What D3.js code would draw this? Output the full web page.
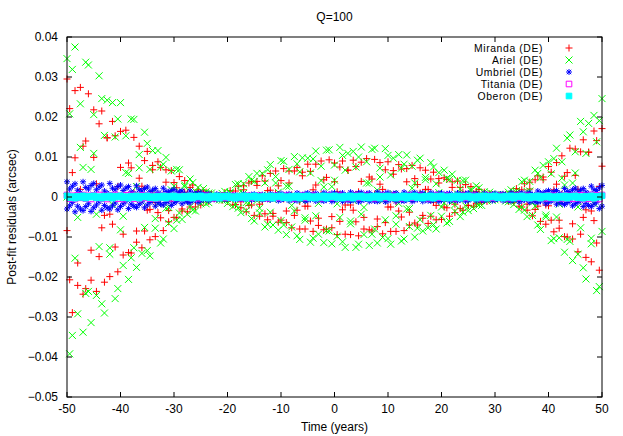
<!DOCTYPE html>
<html>
<head>
<meta charset="utf-8">
<script src="https://cdn.jsdelivr.net/npm/d3@7"></script>
<style>
  body { margin: 0; background: #fff; }
  text { font-family: "Liberation Sans", Arial, sans-serif; font-size: 12px; fill: #000; }
</style>
</head>
<body>
<div id="chart"></div>
<script>
// sample times (years), shared by all five moons
var times = [
  -50, -49.5, -49, -48.5, -48, -47.5, -47, -46.5, -46, -45.5,
  -45, -44.5, -44, -43.5, -43, -42.5, -42, -41.5, -41, -40.5,
  -40, -39.5, -39, -38.5, -38, -37.5, -37, -36.5, -36, -35.5,
  -35, -34.5, -34, -33.5, -33, -32.5, -32, -31.5, -31, -30.5,
  -30, -29.5, -29, -28.5, -28, -27.5, -27, -26.5, -26, -25.5,
  -25, -24.5, -24, -23.5, -23, -22.5, -22, -21.5, -21, -20.5,
  -20, -19.5, -19, -18.5, -18, -17.5, -17, -16.5, -16, -15.5,
  -15, -14.5, -14, -13.5, -13, -12.5, -12, -11.5, -11, -10.5,
  -10, -9.5, -9, -8.5, -8, -7.5, -7, -6.5, -6, -5.5,
  -5, -4.5, -4, -3.5, -3, -2.5, -2, -1.5, -1, -0.5,
  0, 0.5, 1, 1.5, 2, 2.5, 3, 3.5, 4, 4.5,
  5, 5.5, 6, 6.5, 7, 7.5, 8, 8.5, 9, 9.5,
  10, 10.5, 11, 11.5, 12, 12.5, 13, 13.5, 14, 14.5,
  15, 15.5, 16, 16.5, 17, 17.5, 18, 18.5, 19, 19.5,
  20, 20.5, 21, 21.5, 22, 22.5, 23, 23.5, 24, 24.5,
  25, 25.5, 26, 26.5, 27, 27.5, 28, 28.5, 29, 29.5,
  30, 30.5, 31, 31.5, 32, 32.5, 33, 33.5, 34, 34.5,
  35, 35.5, 36, 36.5, 37, 37.5, 38, 38.5, 39, 39.5,
  40, 40.5, 41, 41.5, 42, 42.5, 43, 43.5, 44, 44.5,
  45, 45.5, 46, 46.5, 47, 47.5, 48, 48.5, 49, 49.5,
  50
];

// residuals in units of 0.001 arcsec, two components per moon
var miranda = [
  -8.4, 22.1, -28.9, 26.6, -16.5, 1.9, 12.7, -22.9, 25.8, -20.8,
  9.9, 3.3, -14.9, 21.5, -21.3, 14.8, -4.3, -6.8, 15.3, -18.7,
  16.4, -9.3, 0, 8.5, -14.0, 14.9, -11.3, 4.7, 2.7, -8.5,
  11.4, -10.7, 6.8, -1.4, -3.9, 7.4, -8.4, 6.8, -3.4, -0.5,
  3.6, -5.2, 5.1, -3.5, 1.2, 1.0, -2.5, 3.0, -2.5, 1.4,
  -0.1, -0.8, 1.2, -1.1, 0.7, -0.2, -0.1, 0.3, -0.8, 1.1,
  -1.0, 0.4, 0.7, -1.9, 2.7, -2.7, 1.8, 0, -2.1, 3.9,
  -4.6, 3.9, -1.8, -1.1, 4.0, -5.7, 5.9, -4.1, 0.9, 2.8,
  -5.8, 7.1, -6.4, 3.5, 0.5, -4.6, 7.4, -8.0, 6.2, -2.3,
  -2.3, 6.4, -8.6, 8.2, -5.3, 0.6, 4.3, -8.0, 9.3, -7.7,
  3.8, 1.3, -6.1, 9.0, -9.3, 6.7, -2.0, -3.3, 7.6, -9.7,
  8.7, -5.1, 0, 5.0, -8.5, 9.4, -7.4, 3.2, 1.9, -6.4,
  8.8, -8.6, 5.7, -1.2, -3.5, 7.0, -8.4, 7.1, -3.8, -0.6,
  4.6, -7.0, 7.3, -5.3, 1.9, 1.9, -4.8, 6.2, -5.7, 3.5,
  -0.4, -2.5, 4.4, -4.8, 3.8, -1.8, -0.6, 2.4, -3.3, 3.1,
  -2.1, 0.6, 0.8, -1.7, 1.9, -1.4, 0.7, 0, -0.5, 0.6,
  -0.5, 0.4, -0.1, -0.1, 0.6, -1.1, 1.3, -1.1, 0.3, 1.0,
  -2.5, 3.3, -3.3, 2.0, 0.3, -3.1, 5.3, -6.1, 5.0, -2.0,
  -2.2, 6.2, -8.7, 8.6, -5.8, 0.7, 5.2, -10.0, 12.2, -10.5,
  5.4, 1.9, -9.3, 14.3, -15.1, 11.2, -3.5, -5.9, 14.1, -18.3,
  17.1
];
var miranda2 = [
  29.5, -20.7, 6.1, 9.8, -22.1, 27.4, -24.3, 14.0, 0, -13.3,
  21.8, -23.6, 18.3, -7.7, -4.6, 14.8, -19.9, 18.9, -12.5, 2.6,
  7.4, -14.5, 16.7, -13.9, 7.3, 1.1, -8.5, 12.7, -12.7, 9.1,
  -3.3, -3.1, 7.9, -9.9, 8.8, -5.2, 0.6, 3.7, -6.2, 6.6,
  -5.1, 2.3, 0.7, -3.0, 4.1, -3.7, 2.4, -0.6, -0.9, 1.8,
  -2.0, 1.5, -0.7, 0, 0.4, -0.4, 0.4, -0.4, 0.3, 0.2,
  -1.0, 1.6, -2.0, 1.5, -0.4, -1.2, 2.8, -3.7, 3.5, -2.0,
  -0.3, 2.9, -4.8, 5.3, -4.2, 1.6, 1.7, -4.8, 6.5, -6.3,
  4.1, -0.5, -3.5, 6.5, -7.7, 6.5, -3.3, -1.1, 5.3, -8.0,
  8.2, -6.0, 1.8, 3.0, -7.1, 9.0, -8.2, 4.9, 0, -4.9,
  8.5, -9.4, 7.5, -3.2, -2.0, 6.7, -9.4, 9.2, -6.2, 1.3,
  3.9, -8.0, 9.6, -8.2, 4.5, 0.7, -5.5, 8.6, -9.2, 6.8,
  -2.5, -2.5, 6.6, -8.6, 8.1, -5.0, 0.6, 3.8, -7.0, 7.9,
  -6.5, 3.1, 1.0, -4.6, 6.7, -6.6, 4.5, -1.3, -2.1, 4.6,
  -5.6, 4.8, -2.7, 0, 2.4, -3.9, 4.0, -2.9, 1.2, 0.7,
  -2.1, 2.6, -2.3, 1.4, -0.3, -0.7, 1.2, -1.1, 0.8, -0.3,
  0.0, 0.3, -0.4, 0.5, -0.6, 0.3, 0.4, -1.3, 2.1, -2.3,
  1.8, -0.2, -1.8, 3.7, -4.7, 4.3, -2.3, -0.9, 4.3, -6.8,
  7.6, -5.8, 1.8, 3.2, -7.8, 10.3, -9.9, 6.1, 0, -6.7,
  12.0, -13.7, 11.3, -5.1, -3.2, 11.2, -16.2, 16.5, -11.5, 2.6,
  7.7
];

var ariel = [
  0, 20.8, -34.6, 37.5, -29.2, 12.4, 7.4, -24.1, 33.0, -31.4,
  20.6, -4.3, -12.4, 24.6, -29.0, 24.2, -12.7, -1.8, 15.0, -22.9,
  23.6, -17.1, 6.1, 5.9, -15.2, 19.4, -17.6, 10.6, -1.2, -7.6,
  13.4, -14.7, 11.6, -5.4, -1.7, 7.5, -10.5, 9.9, -6.6, 1.8,
  2.7, -5.8, 6.8, -5.6, 3.0, 0, -2.4, 3.6, -3.5, 2.4,
  -0.9, -0.5, 1.3, -1.4, 1.0, -0.5, 0.1, 0.3, -0.8, 1.4,
  -1.6, 1.0, 0.2, -1.8, 3.3, -3.9, 3.3, -1.4, -1.5, 4.2,
  -6.0, 5.9, -4.0, 0.5, 3.5, -6.8, 8.1, -7.0, 3.5, 1.2,
  -5.9, 8.9, -9.4, 6.9, -2.1, -3.5, 8.3, -10.6, 9.8, -5.8,
  0, 6.0, -10.3, 11.5, -9.3, 4.1, 2.5, -8.4, 11.8, -11.7,
  8.0, -1.7, -5.1, 10.4, -12.6, 10.9, -6.0, -0.9, 7.5, -11.8,
  12.5, -9.4, 3.5, 3.5, -9.3, 12.2, -11.5, 7.2, -0.9, -5.7,
  10.4, -11.8, 9.7, -4.7, -1.6, 7.2, -10.5, 10.5, -7.4, 2.2,
  3.5, -7.8, 9.7, -8.5, 4.9, 0, -4.6, 7.5, -8.0, 6.1,
  -2.5, -1.5, 4.7, -6.1, 5.7, -3.6, 0.7, 2.0, -3.8, 4.2,
  -3.4, 1.6, 0.2, -1.6, 2.3, -2.1, 1.3, -0.4, -0.3, 0.7,
  -0.7, 0.6, -0.3, 0.0, 0.5, -1.2, 1.8, -1.9, 1.1, 0.5,
  -2.5, 4.2, -4.9, 3.9, -1.3, -2.3, 5.9, -8.1, 7.9, -5.0,
  0, 5.8, -10.4, 12.2, -10.2, 4.7, 3.0, -10.6, 15.5, -15.9,
  11.3, -2.5, -7.7, 16.3, -20.5, 18.4, -10.3, -1.6, 13.8, -22.4,
  24.6
];
var ariel2 = [
  34.6, -39.2, 31.9, -15.3, -5.1, 23.3, -33.8, 33.7, -23.6, 6.9,
  10.9, -24.6, 30.3, -26.7, 15.4, 0, -14.3, 23.6, -25.4, 19.5,
  -8.2, -4.8, 15.3, -20.6, 19.5, -12.7, 2.6, 7.3, -14.1, 16.2,
  -13.4, 6.9, 1.0, -7.8, 11.6, -11.5, 8.2, -2.8, -2.6, 6.5,
  -7.9, 6.9, -4.0, 0.4, 2.6, -4.3, 4.5, -3.3, 1.4, 0.4,
  -1.7, 2.1, -1.7, 1.0, -0.2, -0.2, 0.4, -0.7, 0.9, -0.7,
  0, 1.2, -2.4, 3.1, -2.8, 1.4, 0.9, -3.4, 5.1, -5.4,
  3.9, -0.9, -2.8, 5.9, -7.5, 6.8, -3.8, -0.6, 5.1, -8.3,
  9.1, -7.0, 2.7, 2.7, -7.5, 10.1, -9.7, 6.3, -0.8, -5.2,
  9.7, -11.3, 9.5, -4.7, -1.6, 7.7, -11.4, 11.7, -8.5, 2.6,
  4.2, -9.8, 12.4, -11.2, 6.7, 0, -6.7, 11.4, -12.6, 10.0,
  -4.3, -2.6, 8.8, -12.1, 11.9, -8.0, 1.7, 5.0, -10.1, 12.1,
  -10.4, 5.5, 0.8, -6.8, 10.6, -11.0, 8.2, -3.0, -2.9, 7.7,
  -10.0, 9.2, -5.7, 0.7, 4.3, -7.7, 8.6, -6.9, 3.3, 1.1,
  -4.8, 6.7, -6.5, 4.4, -1.2, -1.9, 4.2, -4.9, 4.1, -2.2,
  0, 1.9, -2.9, 2.8, -2.0, 0.7, 0.4, -1.0, 1.2, -0.9,
  0.5, -0.1, -0.2, 0.6, -1.0, 1.2, -0.8, -0.2, 1.6, -3.1,
  3.8, -3.3, 1.4, 1.5, -4.6, 6.7, -7.0, 4.8, -0.6, -4.5,
  8.8, -10.9, 9.6, -5.0, -1.8, 8.8, -13.8, 14.7, -11.1, 3.5,
  6.0, -14.3, 18.9, -17.7, 10.9, 0, -11.7, 20.4, -23.4, 19.1,
  -8.6
];

var umbriel = [
  3.8, -2.2, 2.7, -3.7, 1.7, -3.0, 3.8, -2.4, 2.0, -3.6,
  3.4, -2.0, 2.5, -3.3, 1.5, -2.7, 3.4, -2.2, 1.8, -3.2,
  3.0, -1.7, 2.2, -2.9, 1.3, -2.3, 2.8, -1.8, 1.5, -2.7,
  2.5, -1.4, 1.7, -2.3, 1.1, -1.8, 2.2, -1.4, 1.2, -2.1,
  1.9, -1.1, 1.3, -1.7, 0.8, -1.3, 1.5, -0.9, 0.7, -1.3,
  1.1, -0.6, 0.7, -0.9, 0.4, -0.6, 0.7, -0.4, 0.4, -0.6,
  0.6, -0.3, 0.4, -0.6, 0.3, -0.5, 0.7, -0.4, 0.4, -0.7,
  0.7, -0.4, 0.5, -0.7, 0.4, -0.6, 0.8, -0.5, 0.5, -0.9,
  0.9, -0.5, 0.6, -0.9, 0.4, -0.8, 1.0, -0.6, 0.5, -1.0,
  1.0, -0.6, 0.7, -1.0, 0.5, -0.8, 1.1, -0.7, 0.6, -1.1,
  1.0, -0.6, 0.8, -1.1, 0.5, -0.9, 1.2, -0.8, 0.6, -1.2,
  1.1, -0.7, 0.8, -1.1, 0.5, -1.0, 1.2, -0.8, 0.6, -1.2,
  1.1, -0.6, 0.8, -1.1, 0.5, -0.9, 1.2, -0.7, 0.6, -1.1,
  1.1, -0.6, 0.8, -1.1, 0.5, -0.9, 1.1, -0.7, 0.6, -1.1,
  1.0, -0.6, 0.8, -1.0, 0.5, -0.8, 1.0, -0.7, 0.6, -1.0,
  1.0, -0.5, 0.7, -0.9, 0.4, -0.8, 0.9, -0.6, 0.5, -0.9,
  0.9, -0.5, 0.7, -0.9, 0.5, -0.8, 1.1, -0.7, 0.6, -1.2,
  1.1, -0.7, 0.9, -1.3, 0.6, -1.2, 1.5, -1.0, 0.9, -1.7,
  1.6, -1.0, 1.3, -1.8, 0.9, -1.6, 2.1, -1.4, 1.2, -2.2,
  2.2, -1.3, 1.7, -2.4, 1.2, -2.1, 2.7, -1.8, 1.6, -2.9,
  2.9
];
var umbriel2 = [
  -3.0, 2.0, -1.4, 3.3, -2.3, 1.1, -3.4, 2.4, -1.7, 2.9,
  -2.7, 1.8, -1.2, 3.0, -2.1, 1.0, -3.0, 2.2, -1.5, 2.6,
  -2.4, 1.6, -1.1, 2.6, -1.8, 0.9, -2.6, 1.8, -1.2, 2.1,
  -2.0, 1.3, -0.9, 2.1, -1.4, 0.7, -2.0, 1.4, -1.0, 1.6,
  -1.5, 1.0, -0.6, 1.5, -1.0, 0.5, -1.4, 0.9, -0.6, 1.0,
  -0.9, 0.6, -0.4, 0.8, -0.5, 0.2, -0.6, 0.4, -0.3, 0.5,
  -0.5, 0.3, -0.2, 0.5, -0.4, 0.2, -0.6, 0.4, -0.3, 0.6,
  -0.5, 0.4, -0.3, 0.6, -0.5, 0.2, -0.7, 0.5, -0.4, 0.7,
  -0.7, 0.5, -0.3, 0.8, -0.6, 0.3, -0.9, 0.6, -0.4, 0.8,
  -0.8, 0.5, -0.4, 0.9, -0.6, 0.3, -1.0, 0.7, -0.5, 0.9,
  -0.8, 0.6, -0.4, 1.0, -0.7, 0.3, -1.0, 0.8, -0.5, 1.0,
  -0.9, 0.6, -0.4, 1.0, -0.7, 0.4, -1.1, 0.8, -0.5, 0.9,
  -0.9, 0.6, -0.4, 1.0, -0.7, 0.3, -1.0, 0.7, -0.5, 0.9,
  -0.8, 0.6, -0.4, 1.0, -0.7, 0.3, -1.0, 0.7, -0.5, 0.9,
  -0.8, 0.5, -0.4, 0.9, -0.6, 0.3, -0.9, 0.7, -0.5, 0.8,
  -0.8, 0.5, -0.3, 0.8, -0.6, 0.3, -0.9, 0.6, -0.4, 0.7,
  -0.7, 0.5, -0.3, 0.8, -0.6, 0.3, -1.0, 0.7, -0.5, 0.9,
  -0.9, 0.6, -0.5, 1.1, -0.8, 0.4, -1.3, 1.0, -0.7, 1.3,
  -1.3, 0.9, -0.6, 1.6, -1.2, 0.6, -1.9, 1.4, -1.0, 1.8,
  -1.7, 1.2, -0.9, 2.1, -1.6, 0.8, -2.4, 1.8, -1.3, 2.3,
  -2.3
];

var titania = [
  0.5, -0.4, 0.3, -0.5, 0.4, -0.2, 0.5, -0.4, 0.3, -0.5,
  0.4, -0.2, 0.5, -0.4, 0.3, -0.5, 0.4, -0.2, 0.5, -0.4,
  0.3, -0.5, 0.4, -0.2, 0.5, -0.4, 0.3, -0.5, 0.4, -0.2,
  0.4, -0.4, 0.3, -0.4, 0.3, -0.2, 0.4, -0.3, 0.2, -0.3,
  0.3, -0.2, 0.2, -0.3, 0.2, -0.1, 0.3, -0.2, 0.1, -0.3,
  0.2, -0.1, 0.3, -0.2, 0.1, -0.3, 0.2, -0.1, 0.3, -0.2,
  0.2, -0.1, 0.3, -0.2, 0.1, -0.3, 0.2, -0.1, 0.3, -0.2,
  0.2, -0.1, 0.3, -0.2, 0.1, -0.3, 0.2, -0.1, 0.3, -0.2,
  0.2, -0.1, 0.3, -0.2, 0.1, -0.3, 0.2, -0.1, 0.3, -0.2,
  0.2, -0.1, 0.3, -0.2, 0.1, -0.3, 0.2, -0.1, 0.3, -0.2,
  0.2, -0.1, 0.3, -0.2, 0.1, -0.3, 0.2, -0.1, 0.3, -0.2,
  0.2, -0.1, 0.3, -0.2, 0.1, -0.3, 0.2, -0.1, 0.3, -0.2,
  0.2, -0.1, 0.3, -0.2, 0.1, -0.3, 0.2, -0.1, 0.3, -0.2,
  0.2, -0.1, 0.3, -0.2, 0.1, -0.3, 0.2, -0.1, 0.3, -0.2,
  0.2, -0.1, 0.3, -0.2, 0.1, -0.3, 0.2, -0.1, 0.3, -0.2,
  0.2, -0.1, 0.3, -0.2, 0.1, -0.3, 0.2, -0.1, 0.3, -0.2,
  0.2, -0.1, 0.3, -0.2, 0.1, -0.3, 0.2, -0.1, 0.3, -0.2,
  0.3, -0.2, 0.3, -0.3, 0.2, -0.2, 0.3, -0.3, 0.2, -0.3,
  0.4, -0.3, 0.3, -0.4, 0.2, -0.3, 0.4, -0.3, 0.3, -0.4,
  0.4, -0.3, 0.4, -0.5, 0.3, -0.4, 0.5, -0.3, 0.4, -0.5,
  0.5
];

var oberon = [
  0.3, -0.2, 0.1, -0.3, 0.2, -0.1, 0.3, -0.3, 0.2, 0.0,
  0.3, -0.2, 0.1, -0.3, 0.2, -0.1, 0.3, -0.3, 0.2, 0.0,
  0.3, -0.2, 0.1, -0.3, 0.2, -0.1, 0.3, -0.3, 0.2, 0.0,
  0.3, -0.2, 0.1, -0.3, 0.2, -0.1, 0.3, -0.3, 0.2, 0.0,
  0.3, -0.2, 0.1, -0.3, 0.2, -0.1, 0.3, -0.3, 0.2, 0.0,
  0.3, -0.2, 0.1, -0.3, 0.2, -0.1, 0.3, -0.3, 0.2, 0.0,
  0.3, -0.2, 0.1, -0.3, 0.2, -0.1, 0.3, -0.3, 0.2, 0.0,
  0.3, -0.2, 0.1, -0.3, 0.2, -0.1, 0.3, -0.3, 0.2, 0.0,
  0.3, -0.2, 0.1, -0.3, 0.2, -0.1, 0.3, -0.3, 0.2, 0.0,
  0.3, -0.2, 0.1, -0.3, 0.2, -0.1, 0.3, -0.3, 0.2, 0.0,
  0.3, -0.2, 0.1, -0.3, 0.2, -0.1, 0.3, -0.3, 0.2, 0.0,
  0.3, -0.2, 0.1, -0.3, 0.2, -0.1, 0.3, -0.3, 0.2, 0.0,
  0.3, -0.2, 0.1, -0.3, 0.2, -0.1, 0.3, -0.3, 0.2, 0.0,
  0.3, -0.2, 0.1, -0.3, 0.2, -0.1, 0.3, -0.3, 0.2, 0.0,
  0.3, -0.2, 0.1, -0.3, 0.2, -0.1, 0.3, -0.3, 0.2, 0.0,
  0.3, -0.2, 0.1, -0.3, 0.2, -0.1, 0.3, -0.3, 0.2, 0.0,
  0.3, -0.2, 0.1, -0.3, 0.2, -0.1, 0.3, -0.3, 0.2, 0.0,
  0.3, -0.2, 0.1, -0.3, 0.2, -0.1, 0.3, -0.3, 0.2, 0.0,
  0.3, -0.2, 0.1, -0.3, 0.2, -0.1, 0.3, -0.3, 0.2, 0.0,
  0.3, -0.2, 0.1, -0.3, 0.2, -0.1, 0.3, -0.3, 0.2, 0.0,
  0.3
];

var seriesNames = ["Miranda (DE)", "Ariel (DE)", "Umbriel (DE)", "Titania (DE)", "Oberon (DE)"];
var xTicks = [-50, -40, -30, -20, -10, 0, 10, 20, 30, 40, 50];
var yTicks = [-0.05, -0.04, -0.03, -0.02, -0.01, 0, 0.01, 0.02, 0.03, 0.04];

// Setup
var width = 623, height = 436;
var margin = { top: 37, right: 21, bottom: 39, left: 67 };
var plotW = width - margin.left - margin.right;
var plotH = height - margin.top - margin.bottom;
var tickLen = 5;

var svg = d3.select("#chart").append("svg")
  .attr("width", width)
  .attr("height", height);

var x = d3.scaleLinear().domain([-50, 50]).range([margin.left, margin.left + plotW]);
var y = d3.scaleLinear().domain([-0.05, 0.04]).range([margin.top + plotH, margin.top]);

// point styles, gnuplot order
var styles = [
  { color: "#ff0000", d: "M-3.5,0H3.5M0,-3.5V3.5", fill: "none" },
  { color: "#00ff00", d: "M-3.5,-3.5L3.5,3.5M-3.5,3.5L3.5,-3.5", fill: "none" },
  { color: "#0000ff", d: "M-3,0H3M0,-3V3M-2.2,-2.2L2.2,2.2M-2.2,2.2L2.2,-2.2", fill: "none" },
  { color: "#ff00ff", d: "M-2.8,-2.8H2.8V2.8H-2.8Z", fill: "none" },
  { color: "#00ffff", d: "M-2.8,-2.8H2.8V2.8H-2.8Z", fill: "#00ffff" }
];
// each moon: list of value arrays drawn with its style
var allSeries = [[miranda, miranda2], [ariel, ariel2], [umbriel, umbriel2], [titania], [oberon]];

// Points
allSeries.forEach(function(sets, s) {
  var g = svg.append("g");
  sets.forEach(function(vals) {
    g.append("g")
      .selectAll("path")
      .data(vals)
      .join("path")
      .attr("transform", function(d, i) {
        return "translate(" + x(times[i]) + "," + y(d / 1000) + ")";
      })
      .attr("d", styles[s].d)
      .attr("fill", styles[s].fill)
      .attr("stroke", styles[s].color)
      .attr("stroke-width", 1);
  });
});

// Border with mirrored inward ticks
var frame = svg.append("g");
frame.append("rect")
  .attr("x", margin.left).attr("y", margin.top)
  .attr("width", plotW).attr("height", plotH)
  .attr("fill", "none").attr("stroke", "#000");

xTicks.forEach(function(t) {
  frame.append("line")
    .attr("x1", x(t)).attr("x2", x(t))
    .attr("y1", margin.top + plotH).attr("y2", margin.top + plotH - tickLen)
    .attr("stroke", "#000");
  frame.append("line")
    .attr("x1", x(t)).attr("x2", x(t))
    .attr("y1", margin.top).attr("y2", margin.top + tickLen)
    .attr("stroke", "#000");
  frame.append("text")
    .attr("x", x(t)).attr("y", margin.top + plotH + 16)
    .attr("text-anchor", "middle")
    .text(t);
});

yTicks.forEach(function(v) {
  frame.append("line")
    .attr("x1", margin.left).attr("x2", margin.left + tickLen)
    .attr("y1", y(v)).attr("y2", y(v))
    .attr("stroke", "#000");
  frame.append("line")
    .attr("x1", margin.left + plotW).attr("x2", margin.left + plotW - tickLen)
    .attr("y1", y(v)).attr("y2", y(v))
    .attr("stroke", "#000");
  frame.append("text")
    .attr("x", margin.left - 9).attr("y", y(v) + 4)
    .attr("text-anchor", "end")
    .text(v === 0 ? "0" : d3.format(".2f")(v));
});

// Labels
svg.append("text")
  .attr("x", margin.left + plotW / 2).attr("y", 21)
  .attr("text-anchor", "middle")
  .text("Q=100");

svg.append("text")
  .attr("x", margin.left + plotW / 2).attr("y", 431)
  .attr("text-anchor", "middle")
  .text("Time (years)");

svg.append("text")
  .attr("transform", "translate(16," + (margin.top + plotH / 2) + ")rotate(-90)")
  .attr("text-anchor", "middle")
  .text("Post-fit residuals (arcsec)");

// Legend
var legend = svg.append("g");
seriesNames.forEach(function(name, s) {
  var ly = 48 + s * 12;
  legend.append("text")
    .attr("x", 543).attr("y", ly + 4)
    .attr("text-anchor", "end")
    .style("font-size", "10.4px")
    .style("letter-spacing", "0.6px")
    .text(name);
  legend.append("path")
    .attr("transform", "translate(569," + ly + ")")
    .attr("d", styles[s].d)
    .attr("fill", styles[s].fill)
    .attr("stroke", styles[s].color);
});
</script>
</body>
</html>
